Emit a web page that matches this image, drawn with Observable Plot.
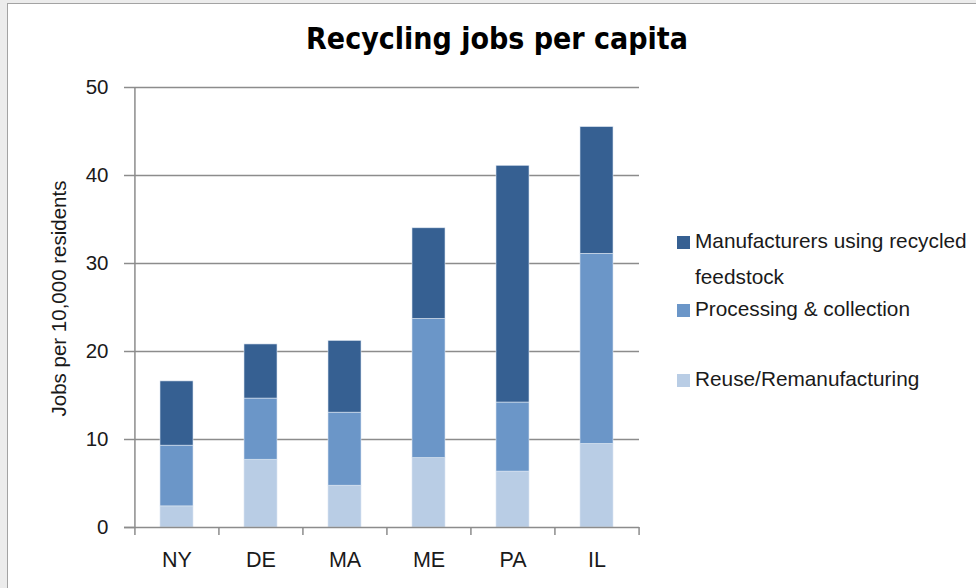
<!DOCTYPE html>
<html><head><meta charset="utf-8">
<script src="https://cdn.jsdelivr.net/npm/d3@7"></script>
<script src="https://cdn.jsdelivr.net/npm/@observablehq/plot@0.6"></script>
<style>
body{margin:0;background:#fff;}
#wrap{position:relative;width:976px;height:588px;background:#ececec;overflow:hidden;font-family:"Liberation Sans",Arial,sans-serif;color:#1a1a1a;}
#panel{position:absolute;left:7px;top:3px;right:0;bottom:0;background:#fff;border-left:1px solid #a3a3a3;border-top:1px solid #a3a3a3;}
#chart{position:absolute;left:0;top:0;}
#title{position:absolute;left:497px;top:21px;transform:translateX(-50%);white-space:nowrap;font-family:"Liberation Sans Narrow","DejaVu Sans Condensed","Arial Narrow",sans-serif;font-stretch:condensed;font-weight:bold;font-size:30px;color:#000;}
.lg{position:absolute;font-size:20.8px;white-space:nowrap;line-height:1;}
.sw{position:absolute;width:13px;height:13px;}
</style></head>
<body>
<div id="wrap"><div id="panel"></div><div id="chart"></div><div id="title"></div><div id="legend"></div></div>
<script>
const states = ["NY", "DE", "MA", "ME", "PA", "IL"];
const reuse = [2.4, 7.7, 4.75, 7.9, 6.35, 9.5];
const processing = [6.9, 6.95, 8.3, 15.8, 7.85, 21.6];
const manufacturers = [7.3, 6.15, 8.15, 10.3, 26.9, 14.4];
const seriesNames = ["Reuse/Remanufacturing", "Processing & collection", "Manufacturers using recycled feedstock"];
const seriesColors = ["#b9cde5", "#6b96c8", "#366092"];
const yTicks = [0, 10, 20, 30, 40, 50];
const titleText = "Recycling jobs per capita";
const yLabel = "Jobs per 10,000 residents";

const seriesValues = [reuse, processing, manufacturers];
const rows = states.flatMap((s, i) => seriesNames.map((n, k) => ({state: s, series: n, value: seriesValues[k][i]})));

const ML = 134, MR = 337, MT = 87, MB = 61, W = 976, H = 588;
const half = (W - ML - MR) / states.length / 2;
const gray = "#8c8c8c";

const chart = Plot.plot({
  width: W, height: H,
  marginLeft: ML, marginRight: MR, marginTop: MT, marginBottom: MB,
  style: {background: "transparent", fontFamily: "'Liberation Sans', Arial, sans-serif", fontSize: "20.5px", color: "#1a1a1a"},
  x: {domain: states, paddingInner: 0.607, paddingOuter: 0.3035, axis: null},
  y: {domain: [0, 50], axis: null},
  color: {domain: seriesNames, range: seriesColors},
  marks: [
    Plot.ruleY(yTicks.slice(1), {stroke: gray, strokeWidth: 1.5}),
    Plot.barY(rows, {x: "state", y: "value", fill: "series", order: seriesNames, stroke: "#dbe5f1", strokeWidth: 0.6}),
    Plot.ruleY([0], {stroke: gray, strokeWidth: 1.5, insetLeft: -10}),
    Plot.ruleX([states[0]], {x: d => d, dx: -half, y1: 0, y2: 50, stroke: gray, strokeWidth: 1.5}),
    Plot.ruleX(states, {x: d => d, dx: -half, y1: 0, y2: -0.9, stroke: gray, strokeWidth: 1.5}),
    Plot.ruleX([states[states.length - 1]], {x: d => d, dx: half, y1: 0, y2: -0.9, stroke: gray, strokeWidth: 1.5}),
    Plot.axisY(yTicks, {tickSize: 10, tickPadding: 16, label: null, stroke: gray, strokeWidth: 1.5, fontSize: 20.5, fill: "#1a1a1a"}),
    Plot.axisX(states, {tickSize: 0, tickPadding: 24, label: null, fontSize: 21.5, fill: "#1a1a1a"}),
    Plot.text([yLabel], {frameAnchor: "left", textAnchor: "middle", dx: -75, dy: -9, rotate: -90, fontSize: 20.5, fill: "#1a1a1a"})
  ]
});
document.getElementById("chart").appendChild(chart);
document.getElementById("title").textContent = titleText;

const legend = document.getElementById("legend");
const items = [
  {k: 2, lines: ["Manufacturers using recycled", "feedstock"], y: 231},
  {k: 1, lines: ["Processing & collection"], y: 299},
  {k: 0, lines: ["Reuse/Remanufacturing"], y: 369}
];
items.forEach(it => {
  const sw = document.createElement("div");
  sw.className = "sw";
  sw.style.left = "677px"; sw.style.top = (it.y + 5) + "px";
  sw.style.background = seriesColors[it.k];
  legend.appendChild(sw);
  it.lines.forEach((ln, j) => {
    const t = document.createElement("div");
    t.className = "lg";
    t.style.left = "695px"; t.style.top = (it.y + j * 36) + "px";
    t.textContent = ln;
    legend.appendChild(t);
  });
});
</script>
</body></html>
